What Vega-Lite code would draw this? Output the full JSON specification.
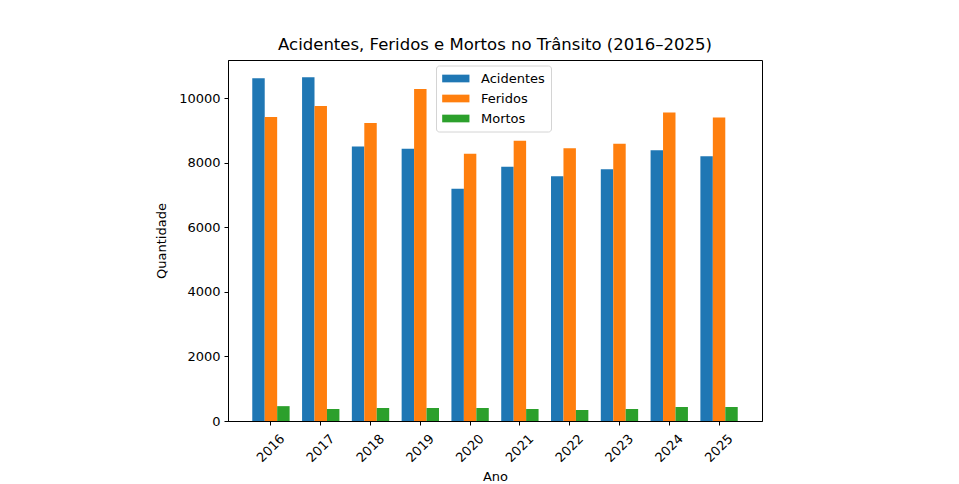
{
  "$schema": "https://vega.github.io/schema/vega-lite/v6.json",
  "autosize": "none",
  "padding": {"left": 228, "top": 60, "right": 197, "bottom": 63},
  "width": 534,
  "height": 361,
  "background": "white",
  "title": {
    "text": "Acidentes, Feridos e Mortos no Trânsito (2016–2025)",
    "font": "DejaVu Sans",
    "fontSize": 16.5,
    "fontWeight": "normal",
    "color": "black",
    "anchor": "middle",
    "baseline": "alphabetic",
    "offset": -6.5
  },
  "config": {
    "view": {"stroke": "black", "strokeWidth": 1},
    "font": "DejaVu Sans",
    "axis": {
      "labelFont": "DejaVu Sans",
      "labelFontSize": 13,
      "labelColor": "black",
      "titleFont": "DejaVu Sans",
      "titleFontSize": 13,
      "titleFontWeight": "normal",
      "titleColor": "black",
      "domainColor": "black",
      "tickColor": "black",
      "tickSize": 4,
      "grid": false
    }
  },
  "data": {
    "values": [
      {"ano": "2016", "tipo": "Acidentes", "valor": 10620},
      {"ano": "2016", "tipo": "Feridos", "valor": 9420},
      {"ano": "2016", "tipo": "Mortos", "valor": 460},
      {"ano": "2017", "tipo": "Acidentes", "valor": 10650},
      {"ano": "2017", "tipo": "Feridos", "valor": 9760},
      {"ano": "2017", "tipo": "Mortos", "valor": 372},
      {"ano": "2018", "tipo": "Acidentes", "valor": 8500},
      {"ano": "2018", "tipo": "Feridos", "valor": 9235},
      {"ano": "2018", "tipo": "Mortos", "valor": 403},
      {"ano": "2019", "tipo": "Acidentes", "valor": 8437},
      {"ano": "2019", "tipo": "Feridos", "valor": 10288},
      {"ano": "2019", "tipo": "Mortos", "valor": 403},
      {"ano": "2020", "tipo": "Acidentes", "valor": 7196},
      {"ano": "2020", "tipo": "Feridos", "valor": 8282},
      {"ano": "2020", "tipo": "Mortos", "valor": 403},
      {"ano": "2021", "tipo": "Acidentes", "valor": 7878},
      {"ano": "2021", "tipo": "Feridos", "valor": 8685},
      {"ano": "2021", "tipo": "Mortos", "valor": 372},
      {"ano": "2022", "tipo": "Acidentes", "valor": 7580},
      {"ano": "2022", "tipo": "Feridos", "valor": 8449},
      {"ano": "2022", "tipo": "Mortos", "valor": 341},
      {"ano": "2023", "tipo": "Acidentes", "valor": 7797},
      {"ano": "2023", "tipo": "Feridos", "valor": 8592},
      {"ano": "2023", "tipo": "Mortos", "valor": 372},
      {"ano": "2024", "tipo": "Acidentes", "valor": 8387},
      {"ano": "2024", "tipo": "Feridos", "valor": 9553},
      {"ano": "2024", "tipo": "Mortos", "valor": 434},
      {"ano": "2025", "tipo": "Acidentes", "valor": 8201},
      {"ano": "2025", "tipo": "Feridos", "valor": 9398},
      {"ano": "2025", "tipo": "Mortos", "valor": 434}
    ]
  },
  "mark": {"type": "bar"},
  "encoding": {
    "x": {
      "field": "ano",
      "type": "ordinal",
      "title": "Ano",
      "scale": {"paddingInner": 0.25, "paddingOuter": 0.4875},
      "axis": {
        "labelAngle": -45,
        "labelAlign": "center",
        "labelBaseline": "middle",
        "labelPadding": 23,
        "labelOverlap": false,
        "titlePadding": 6
      }
    },
    "xOffset": {
      "field": "tipo",
      "type": "nominal",
      "scale": {"domain": ["Acidentes", "Feridos", "Mortos"], "paddingInner": 0, "paddingOuter": 0}
    },
    "y": {
      "field": "valor",
      "type": "quantitative",
      "title": "Quantidade",
      "scale": {"domain": [0, 11183], "nice": false},
      "axis": {"values": [0, 2000, 4000, 6000, 8000, 10000], "format": "d", "labelPadding": 4, "titlePadding": 10}
    },
    "color": {
      "field": "tipo",
      "type": "nominal",
      "scale": {
        "domain": ["Acidentes", "Feridos", "Mortos"],
        "range": ["#1f77b4", "#ff7f0e", "#2ca02c"]
      },
      "legend": {
        "title": null,
        "orient": "none",
        "legendX": 208,
        "legendY": 5.5,
        "padding": 6,
        "fillColor": "white",
        "strokeColor": "#d4d4d4",
        "cornerRadius": 3,
        "symbolType": "M-1,-0.5636L3,-0.5636L3,0.5636L-1,0.5636Z",
        "symbolSize": 186,
        "symbolStrokeWidth": 0,
        "symbolOpacity": 1,
        "labelFont": "DejaVu Sans",
        "labelFontSize": 13,
        "labelColor": "black",
        "labelOffset": 25,
        "rowPadding": 6
      }
    }
  }
}
